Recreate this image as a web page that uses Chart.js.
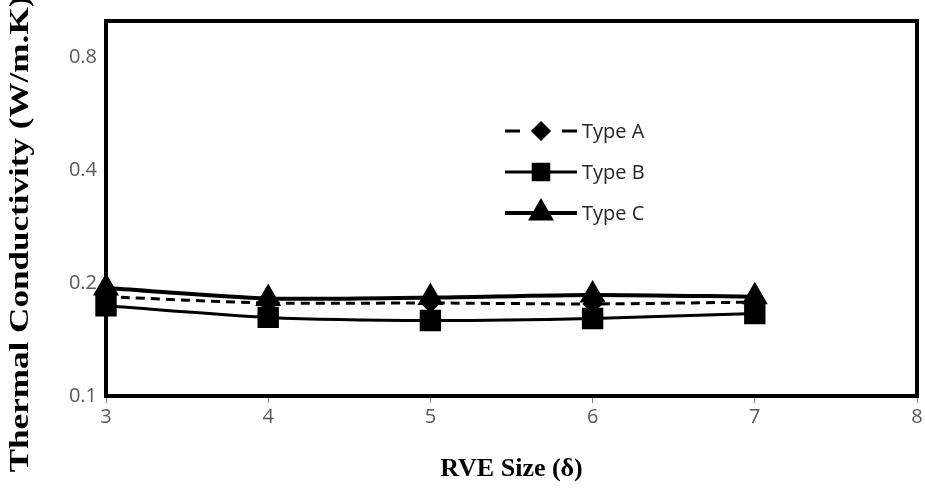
<!doctype html>
<html>
<head>
	<title>Thermal Conductivity vs RVE Size</title>
	<script src="https://cdn.jsdelivr.net/npm/chart.js@4"></script>
	<style>
		html, body { margin: 0; padding: 0; background: #fff; overflow: hidden; }
	</style>
</head>
<body>
	<canvas id="chart" width="925" height="490"></canvas>
	<script>
		// RVE sizes (x) and thermal conductivity (W/m.K) per type
		const rveSize = [3, 4, 5, 6, 7];
		const typeA = [0.184, 0.177, 0.177, 0.176, 0.178];
		const typeB = [0.174, 0.162, 0.159, 0.161, 0.166];
		const typeC = [0.194, 0.182, 0.183, 0.186, 0.184];
		const yTicks = [0.1, 0.2, 0.4, 0.8];
		const seriesNames = ['Type A', 'Type B', 'Type C'];

		const toPoints = (ys) => rveSize.map((x, i) => ({x: x, y: ys[i]}));

		// frame around the plot area + legend inside it + rotated y title
		const extras = {
			id: 'extras',
			afterDatasetsDraw(chart) {
				const {ctx, chartArea: a} = chart;
				ctx.save();
				ctx.lineWidth = 4;
				ctx.strokeStyle = '#000';
				ctx.strokeRect(a.left, a.top, a.right - a.left, a.bottom - a.top);

				// legend
				const rows = [131, 172, 213];
				chart.data.datasets.forEach((ds, i) => {
					const y = rows[i];
					ctx.strokeStyle = '#000';
					ctx.lineWidth = ds.borderWidth;
					ctx.beginPath();
					if (ds.borderDash) {
						ctx.moveTo(505, y); ctx.lineTo(520, y);
						ctx.moveTo(562, y); ctx.lineTo(577, y);
					} else {
						ctx.moveTo(505, y); ctx.lineTo(577, y);
					}
					ctx.stroke();
					ctx.fillStyle = '#000';
					const r = ds.pointStyle === 'rect' ? 11 : ds.pointRadius;
					Chart.helpers.drawPoint(ctx, {pointStyle: ds.pointStyle, radius: r, rotation: 0, borderWidth: 1}, 541, y);
					ctx.fill();
					ctx.font = '20px "Open Sans"';
					ctx.textBaseline = 'middle';
					ctx.textAlign = 'left';
					ctx.fillStyle = '#262626';
					ctx.fillText(ds.label, 582, y + 1);
				});

				// y axis title
				ctx.translate(21, 234);
				ctx.rotate(-Math.PI / 2);
				ctx.scale(1.3, 1);
				ctx.font = 'bold 27px "Liberation Serif"';
				ctx.textAlign = 'center';
				ctx.textBaseline = 'middle';
				ctx.fillStyle = '#000';
				ctx.fillText('Thermal Conductivity (W/m.K)', 0, 0);
				ctx.restore();
			}
		};

		const config = {
			type: 'line',
			data: {
				datasets: [{
					label: seriesNames[0],
					data: toPoints(typeA),
					borderColor: '#000',
					backgroundColor: '#000',
					borderWidth: 3,
					borderDash: [9, 6],
					pointStyle: 'rectRot',
					pointRadius: 8,
					tension: 0.25,
					clip: false
				}, {
					label: seriesNames[1],
					data: toPoints(typeB),
					borderColor: '#000',
					backgroundColor: '#000',
					borderWidth: 3,
					pointStyle: 'rect',
					pointRadius: 13,
					tension: 0.25,
					clip: false
				}, {
					label: seriesNames[2],
					data: toPoints(typeC),
					borderColor: '#000',
					backgroundColor: '#000',
					borderWidth: 4,
					pointStyle: 'triangle',
					pointRadius: 11,
					tension: 0.25,
					clip: false
				}]
			},
			options: {
				responsive: false,
				animation: false,
				layout: { autoPadding: false, padding: { top: 15, right: 8, left: 0, bottom: 0 } },
				plugins: {
					legend: { display: false },
					tooltip: { enabled: false }
				},
				scales: {
					x: {
						type: 'linear',
						min: 3,
						max: 8,
						ticks: {
							stepSize: 1,
							color: '#595959',
							font: { family: 'Open Sans', size: 20 },
							padding: 2
						},
						grid: { drawOnChartArea: false, tickLength: 7, color: '#888' },
						border: { display: false },
						title: {
							display: true,
							text: 'RVE Size (δ)',
							color: '#000',
							font: { family: 'Liberation Serif', size: 26, weight: 'bold' },
							padding: { top: 0, bottom: 5 }
						},
						afterFit(scale) { scale.height = 94; }
					},
					y: {
						type: 'logarithmic',
						min: 0.1,
						max: 1.0,
						afterBuildTicks(scale) {
							scale.ticks = yTicks.map(v => ({value: v}));
						},
						ticks: {
							color: '#595959',
							font: { family: 'Open Sans', size: 20 },
							padding: 9,
							callback: (v) => String(v)
						},
						grid: { drawOnChartArea: false, drawTicks: false },
						border: { display: false },
						afterFit(scale) { scale.width = 106; }
					}
				}
			},
			plugins: [extras]
		};

		new Chart(document.getElementById('chart').getContext('2d'), config);
	</script>
</body>
</html>
